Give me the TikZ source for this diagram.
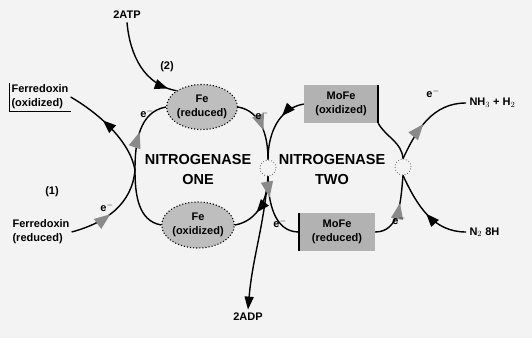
\documentclass[tikz,border=0pt]{standalone}
\usepackage{fontspec}
\setmainfont{Liberation Sans}
\usetikzlibrary{arrows.meta,decorations.markings,shapes.geometric}
\definecolor{bgc}{HTML}{F3F3F3}
\definecolor{fefill}{HTML}{BEBEBE}
\definecolor{mofill}{HTML}{B2B2B2}
\definecolor{arrg}{HTML}{8A8A8A}
\tikzset{
  conn/.style={line width=1.4pt, black},
  small/.style={font=\fontsize{11}{14}\selectfont\bfseries},
  fenode/.style={ellipse, fill=fefill, draw=black, dotted, line width=1.1pt, align=center,
    small, inner sep=0pt},
  monode/.style={rectangle, fill=mofill, align=center, small, minimum width=74pt, minimum height=38pt},
  junc/.style={circle, draw=black!60, dotted, line width=0.8pt, minimum size=16pt, inner sep=0pt},
  biglbl/.style={align=center, font=\fontsize{14.5}{20}\selectfont\bfseries},
  garrow/.style={postaction={decorate}, decoration={markings, mark=at position #1 with
    {\arrow{Triangle[length=16pt,width=12pt,color=arrg,fill=arrg]}}}},
  barrow/.style={postaction={decorate}, decoration={markings, mark=at position #1 with
    {\arrow{Triangle[length=13pt,width=10pt]}}}},
  rbarrow/.style={postaction={decorate}, decoration={markings, mark=at position #1 with
    {\arrowreversed{Triangle[length=13pt,width=10pt]}}}},
}
\begin{document}
\begin{tikzpicture}[x=1pt,y=1pt]
\useasboundingbox (0,0) rectangle (532,338);
\fill[bgc] (0,0) rectangle (532,338);

% main nodes
\node[fenode, minimum width=62pt, minimum height=45pt] (fer) at (202,231) {Fe\\(reduced)};
\node[fenode, minimum width=63pt, minimum height=46pt] (feo) at (198,113) {Fe\\(oxidized)};
\node[monode] (moo) at (341,234) {MoFe\\(oxidized)};
\node[monode, minimum width=76pt] (mor) at (337,106) {MoFe\\(reduced)};
\draw[line width=1.5pt] (moo.north east) -- (moo.south east);
\draw[line width=1.5pt] (mor.north west) -- (mor.south west);

\node[junc] (jl) at (268,170) {};
\node[junc] (jr) at (403,171) {};
\coordinate (cusp) at (135,168);

\node[small, align=left, inner sep=2pt] (fdo) at (40,241) {Ferredoxin\\(oxidized)};
\draw[line width=0.7pt] (fdo.north west) -- (fdo.south west) -- (fdo.south east);
\node[small, align=left, inner sep=2pt] (fdr) at (41,106) {Ferredoxin\\(reduced)};
\node[small] (atp) at (127,323) {2ATP};
\node[small] (adp) at (248,21) {2ADP};
\node[small, anchor=west] (nh) at (466,235) {NH$_3$ + H$_2$};
\node[small, anchor=west] (n2) at (466,106) {N$_2$ 8H};

\node[biglbl] (n1) at (198,168) {NITROGENASE\\ONE};
\node[biglbl] (n2lbl) at (332,168) {NITROGENASE\\TWO};

% left cycle
\draw[conn, garrow=0.5] (cusp) to[out=90,in=190] (fer.west);
\draw[conn, garrow=0.55] (fer.east) to[out=-10,in=90] (jl.north);
\draw[conn, barrow=0.6] (jl.south) to[out=-90,in=10] (feo.east);
\draw[conn] (feo.west) to[out=170,in=-90] (cusp);

% ferredoxin
\draw[conn, rbarrow=0.4] (fdo.east) to[out=-30,in=100, looseness=0.8] (cusp);
\draw[conn, garrow=0.45] (fdr.east) to[out=15,in=-95] (cusp);

% ATP / ADP
\draw[conn, barrow=0.9] (atp.south) to[out=-85,in=170] (fer.north west);
\draw[conn, -{Triangle[length=13pt,width=9pt]}] (jl.south) to[out=-95,in=85] (adp.north);

% right cycle
\draw[conn, barrow=0.35] (moo.west) to[out=190,in=90] (jl.north);
\draw[conn, garrow=0.3] (jl.south) to[out=-90,in=180] (mor.west);
\draw[conn, garrow=0.6] (mor.east) to[out=0,in=-95] (jr.south);
\draw[conn] (jr.north) to[out=95,in=-60] (moo.south east);

% products
\draw[conn, garrow=0.45] (jr.north) to[out=65,in=180] (nh.west);
\draw[conn, barrow=0.5] (n2.west) to[out=180,in=-65] (jr.south);

% labels
\node[small] (e1) at (147,225) {e$^-$};
\node[small] (e2) at (262,223) {e$^-$};
\node[small] (e3) at (107,131) {e$^-$};
\node[small] (e4) at (280,115) {e$^-$};
\node[small] (e5) at (399,118) {e$^-$};
\node[small] (e6) at (433,245) {e$^-$};
\node[small] (l1) at (52,146) {(1)};
\node[small] (l2) at (167,271) {(2)};
\end{tikzpicture}
\end{document}
